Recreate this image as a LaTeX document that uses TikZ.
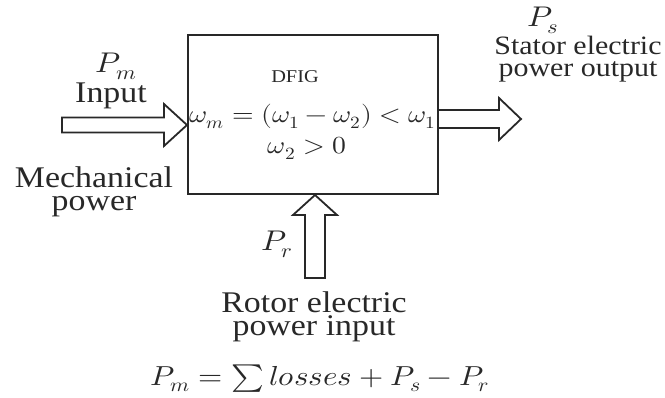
\documentclass[tikz,border=0pt]{standalone}
\usepackage{amsmath}
\usepackage{graphicx}
\usepackage{unicode-math}
\setmainfont{Liberation Serif}
\setmathfont{Latin Modern Math}
\usepackage{tikz}
\usetikzlibrary{calc}
\definecolor{figK}{RGB}{40,40,40}
% the labels are set a little wider than high
\newcommand{\widetxt}[1]{\scalebox{1.13}[1]{#1}}
\newcommand{\bigtxt}{\fontsize{30}{22.5}\selectfont}
\newcommand{\midtxt}{\fontsize{26.5}{22}\selectfont}
\newcommand{\mathtxt}{\fontsize{28.5}{28}\selectfont}

\begin{document}
\begin{tikzpicture}[x=1pt, y=-1pt,
  lbl/.style={inner sep=0pt, align=center, text=figK},
  blockarr/.style={draw=figK, line width=1.8pt, fill=white, line join=miter}]
\useasboundingbox (0,0) rectangle (665,397);
% ===== DFIG block =====
\node[draw=figK, line width=2pt, minimum width=250, minimum height=159, inner sep=0pt] (dfig) at (313,114.5) {};
\node[lbl, font=\fontsize{18}{18}\selectfont] (name) at (295,77) {\widetxt{DFIG}};
\node[lbl, font=\fontsize{24.5}{25}\selectfont] (speed) at (313,116) {\widetxt{$\omega_m = (\omega_1 - \omega_2) < \omega_1$}};
\node[lbl, font=\fontsize{24.5}{25}\selectfont] (slip) at (307,148) {\widetxt{$\omega_2 > 0$}};
% ===== mechanical input (left) =====
\coordinate (pm) at (dfig.west |- 0,125);
\draw[blockarr, shift={(pm)}] (0,0) -- (-23,-21) -- (-23,-7.5) -- (-125,-7.5)
  -- (-125,7.5) -- (-23,7.5) -- (-23,21) -- cycle;
\node[lbl, font=\mathtxt, anchor=base] (pmlbl) at (116,72) {\widetxt{$P_m$}};
\node[lbl, font=\bigtxt, anchor=base] (inlbl) at (111,102) {\widetxt{Input}};
\node[lbl, font=\bigtxt, anchor=base] (mech) at (94,210) {\widetxt{Mechanical}\\\widetxt{power}};
% ===== stator output (right) =====
\coordinate (ps) at (dfig.east |- 0,119);
\draw[blockarr, shift={(ps)}] (0,-9) -- (60,-9) -- (60,-21) -- (82,0) -- (60,21)
  -- (60,9) -- (0,9);
\node[lbl, font=\mathtxt, anchor=base] (pslbl) at (543,26) {\widetxt{$P_s$}};
\node[lbl, font=\midtxt, anchor=base] (stat) at (578,76) {\widetxt{Stator electric}\\\widetxt{power output}};
% ===== rotor input (bottom) =====
\coordinate (pr) at (dfig.south -| 315,0);
\draw[blockarr, shift={(pr)}] (0,0) -- (22,20) -- (10,20) -- (10,83) -- (-10,83)
  -- (-10,20) -- (-22,20) -- cycle;
\node[lbl, font=\mathtxt, anchor=base] (prlbl) at (277,250) {\widetxt{$P_r$}};
\node[lbl, font=\bigtxt, anchor=base] (rot) at (314,335) {\widetxt{Rotor electric}\\\widetxt{power input}};
% ===== power balance =====
\node[lbl, font=\fontsize{27.5}{28}\selectfont, anchor=base] (bal) at (320,385)
  {\widetxt{$P_m = \sum losses + P_s - P_r$}};
\end{tikzpicture}
\end{document}
